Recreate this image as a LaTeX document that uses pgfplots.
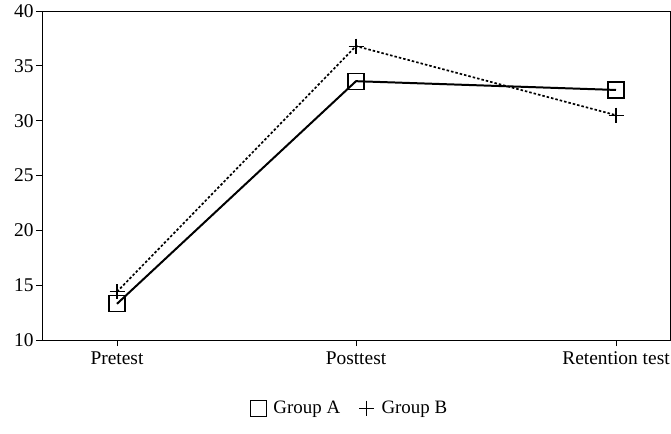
\documentclass[border=0pt]{standalone}
\usepackage{fontspec}
\setmainfont{Liberation Serif}
\usepackage{pgfplots}
\pgfplotsset{compat=1.18}
\begin{document}
\begin{tikzpicture}[x=1bp,y=1bp]
\begin{axis}[
  at={(0,0)}, anchor=south west,
  scale only axis, width=628bp, height=329bp,
  xmin=42, xmax=670, ymin=10, ymax=40,
  xtick={117,356,616},
  xticklabels={Pretest,Posttest,Retention test},
  ytick={10,15,20,25,30,35,40},
  tick align=outside, xtick pos=bottom, ytick pos=left,
  major tick length=6bp,
  tick style={black, line width=0.9pt},
  axis line style={line width=1pt},
  /pgf/number format/assume math mode=true,
  tick label style={font=\fontsize{19.5}{22}\selectfont},
  xticklabel style={yshift=-2bp},
  yticklabel style={xshift=1bp},
  legend style={draw=none, at={(0.49,-0.207)}, anchor=center, legend columns=2,
    font=\fontsize{19}{22}\selectfont, /tikz/every even column/.append style={column sep=16bp}},
  legend cell align=left,
  legend image code/.code={\draw[#1] plot coordinates {(0.3cm,0cm)}; \path[draw=none,fill=none] (0,0) rectangle (0.75cm,0.01cm);},
  clip=false,
]
\addplot[black, line width=2pt, mark=square, mark size=8bp, mark options={solid, line width=1.2pt, fill=white}] coordinates {(117,13.3) (356,33.6) (616,32.8)};
\addlegendentry{Group A}
\addplot[black, line width=1.7pt, dash pattern=on 2.5bp off 2bp, mark=+, mark size=7.5bp, mark options={solid, line width=1.1pt}] coordinates {(117,14.4) (356,36.8) (616,30.5)};
\addlegendentry{Group B}
\end{axis}
\pgfresetboundingbox
\path (-42bp,-94bp) rectangle (629bp,340bp);
\end{tikzpicture}
\end{document}
